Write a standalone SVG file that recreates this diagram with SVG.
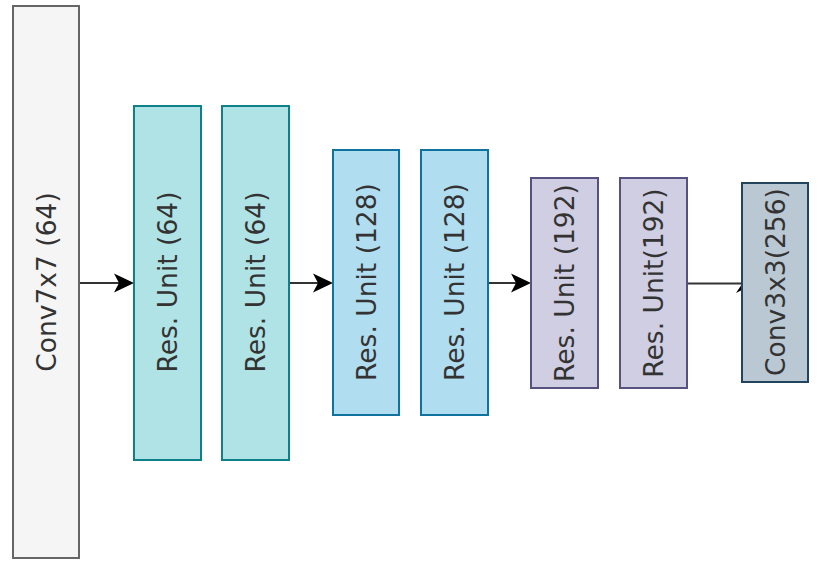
<svg xmlns="http://www.w3.org/2000/svg" width="823" height="570" viewBox="0 0 823 570">
<style>
.lbl{font-family:"DejaVu Sans",Verdana,sans-serif;font-size:26.5px;fill:#333333;text-anchor:middle}
.edge{stroke:#333333;stroke-width:2;fill:none}
.head{fill:#000000}
.n rect{stroke-width:2}
.gray rect{fill:#f5f5f5;stroke:#666666}
.teal rect{fill:#b0e3e6;stroke:#0e8088}
.blue rect{fill:#b1ddf0;stroke:#10739e}
.purple rect{fill:#d0cee2;stroke:#56517e}
.slate rect{fill:#bac8d3;stroke:#23445d}
</style>
<rect width="823" height="570" fill="#ffffff"/>
<g id="connectors">
  <line class="edge" x1="79" y1="283" x2="120" y2="283"/>
  <polygon class="head" points="134,283 114,273.5 119,283 114,292.5"/>
  <line class="edge" x1="289" y1="283" x2="319" y2="283"/>
  <polygon class="head" points="333,283 313,273.5 318,283 313,292.5"/>
  <line class="edge" x1="488" y1="283" x2="517" y2="283"/>
  <polygon class="head" points="531,283 511,273.5 516,283 511,292.5"/>
  <line class="edge" x1="687" y1="283.5" x2="742" y2="283.5"/>
  <polygon class="head" points="736,293 742,284 742,290"/>
</g>
<g id="conv7x7" class="n gray">
  <rect x="13" y="6" width="66" height="552"/>
  <text class="lbl" transform="translate(55.5,282) rotate(-90)">Conv7x7 (64)</text>
</g>
<g id="res64a" class="n teal">
  <rect x="134" y="106" width="67" height="354"/>
  <text class="lbl" transform="translate(177,282) rotate(-90)">Res. Unit (64)</text>
</g>
<g id="res64b" class="n teal">
  <rect x="222" y="106" width="67" height="354"/>
  <text class="lbl" transform="translate(265,282) rotate(-90)">Res. Unit (64)</text>
</g>
<g id="res128a" class="n blue">
  <rect x="333" y="150" width="66" height="265"/>
  <text class="lbl" transform="translate(375.5,282) rotate(-90)">Res. Unit (128)</text>
</g>
<g id="res128b" class="n blue">
  <rect x="421" y="150" width="67" height="265"/>
  <text class="lbl" transform="translate(464,282) rotate(-90)">Res. Unit (128)</text>
</g>
<g id="res192a" class="n purple">
  <rect x="531" y="178" width="67" height="210"/>
  <text class="lbl" transform="translate(574,283) rotate(-90)">Res. Unit (192)</text>
</g>
<g id="res192b" class="n purple">
  <rect x="620" y="178" width="67" height="210"/>
  <text class="lbl" transform="translate(663,283) rotate(-90)">Res. Unit(192)</text>
</g>
<g id="conv3x3" class="n slate">
  <rect x="742" y="183" width="66" height="199"/>
  <text class="lbl" transform="translate(784.5,282) rotate(-90)">Conv3x3(256)</text>
</g>
</svg>
